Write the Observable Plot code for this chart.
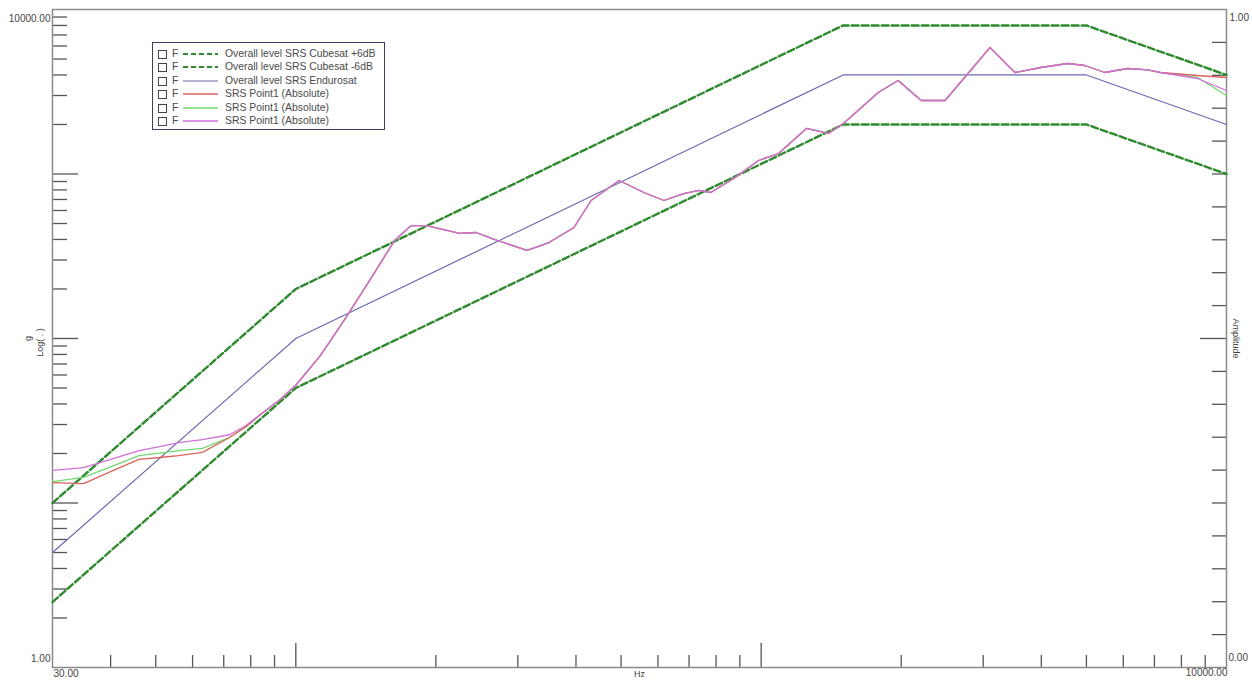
<!DOCTYPE html>
<html>
<head>
<meta charset="utf-8">
<script src="https://cdn.jsdelivr.net/npm/d3@7"></script>
<script src="https://cdn.jsdelivr.net/npm/@observablehq/plot@0.6"></script>
<style>
  html, body { margin: 0; padding: 0; background: #fff; }
  #wrap { position: relative; width: 1252px; height: 680px; font-family: "Liberation Sans", Arial, sans-serif; }
  #legend { position: absolute; left: 152px; top: 42px; width: 233px; height: 88px; border: 1px solid #3c3c66; background: #fff; box-sizing: border-box; }
  .row { position: absolute; left: 0; height: 12px; font-size: 10.4px; line-height: 12px; color: #4a4a4a; white-space: nowrap; }
  .box { position: absolute; left: 5px; top: 2px; width: 7px; height: 7px; border: 1px solid #444; }
  .f { position: absolute; left: 19px; top: 0px; }
  .smp { position: absolute; left: 30px; top: 0px; }
  .lbl { position: absolute; left: 72px; top: 0px; }
</style>
</head>
<body>
<div id="wrap"><div id="chart"></div><div id="legend"></div></div>
<script>
// ---- data ----
const limitFreq = [30, 100, 1500, 5000, 10000];
const cubesatPlus6 = [10, 200, 8000, 8000, 4000];
const cubesatMinus6 = [2.5, 50, 2000, 2000, 1000];
const endurosat = [5, 100, 4000, 4000, 2000];

const srsFreq = [30, 35, 40, 46, 51, 56, 63, 72, 78, 84.5, 92, 100, 113, 127, 144, 163, 177, 191, 225, 244, 264, 314, 350, 396, 431, 495, 560, 618, 682, 734, 779, 873, 987, 1090, 1251, 1395, 1502, 1785, 1970, 2207, 2484, 2783, 3102, 3510, 3990, 4560, 4959, 5473, 6131, 6766, 7215, 8662, 10000];
const srsRed = [13.3, 13.1, 15.5, 18.4, 18.9, 19.4, 20.3, 25, 29, 35, 42, 52, 79, 129, 225, 394, 486, 486, 435, 441, 405, 343, 383, 473, 690, 913, 772, 690, 761, 794, 772, 939, 1208, 1332, 1891, 1763, 2028, 3129, 3702, 2797, 2797, 4083, 5875, 4140, 4440, 4695, 4566, 4140, 4378, 4300, 4140, 3971, 3861];
const srsGreen = [13.5, 14.3, 16.6, 19.4, 20.1, 20.8, 21.5, 25, 29, 35, 42, 52, 79, 129, 225, 394, 486, 486, 435, 441, 405, 343, 383, 473, 690, 913, 772, 690, 761, 794, 772, 939, 1208, 1332, 1891, 1763, 2028, 3129, 3702, 2797, 2797, 4083, 5875, 4140, 4440, 4695, 4566, 4140, 4378, 4300, 4140, 3861, 3001];
const srsMagenta = [15.8, 16.4, 18.4, 20.8, 22.0, 23.3, 24.3, 26, 29.5, 35, 42, 52, 79, 129, 225, 394, 486, 486, 435, 441, 405, 343, 383, 473, 690, 913, 772, 690, 761, 794, 772, 939, 1208, 1332, 1891, 1763, 2028, 3129, 3702, 2797, 2797, 4083, 5875, 4140, 4440, 4695, 4566, 4140, 4378, 4300, 4140, 3806, 3218];

const xMinorTicks = [40, 50, 60, 70, 80, 90, 200, 300, 400, 500, 600, 700, 800, 900, 2000, 3000, 4000, 5000, 6000, 7000, 8000, 9000];
const xMajorTicks = [100, 1000];
const yMinorTicks = [2, 3, 4, 5, 6, 7, 8, 9, 20, 30, 40, 50, 60, 70, 80, 90, 200, 300, 400, 500, 600, 700, 800, 900, 2000, 3000, 4000, 5000, 6000, 7000, 8000, 9000];
const yMajorTicks = [10, 100, 1000];
const ampShortTicks = [0.05, 0.1, 0.15, 0.2, 0.25, 0.3, 0.35, 0.4, 0.45, 0.55, 0.6, 0.65, 0.7, 0.75, 0.8, 0.85, 0.9, 0.95];
const ampLongTicks = [0.5];

const legendLabels = ["Overall level SRS Cubesat +6dB", "Overall level SRS Cubesat -6dB", "Overall level SRS Endurosat", "SRS Point1 (Absolute)", "SRS Point1 (Absolute)", "SRS Point1 (Absolute)"];

// ---- styles ----
const cDash = "#2f8a2f", cBlue = "#6a6ab0", cRed = "#d8645c", cGreen = "#72d872", cMag = "#d070d8";

const toRows = (xs, ys) => xs.map((x, i) => ({x, y: ys[i]}));
const plotW = 1252 - 52 - 26, plotH = 680 - 9 - 13;
const ampToY = a => Math.pow(10, 4 * a);

const chart = Plot.plot({
  width: 1252, height: 680,
  marginLeft: 52, marginRight: 26, marginTop: 9, marginBottom: 13,
  x: {type: "log", domain: [30, 10000], axis: null},
  y: {type: "log", domain: [1, 10000], axis: null},
  style: {fontFamily: "Liberation Sans, Arial, sans-serif", fontSize: "10px", background: "#fff", overflow: "visible"},
  marks: [
    Plot.tickX(xMinorTicks, {x: d => d, insetTop: plotH - 12, stroke: "#555", strokeWidth: 1.3}),
    Plot.tickX(xMajorTicks, {x: d => d, insetTop: plotH - 24, stroke: "#555", strokeWidth: 1.3}),
    Plot.tickY(yMinorTicks, {y: d => d, insetRight: plotW - 15, stroke: "#555", strokeWidth: 1.3}),
    Plot.tickY(yMajorTicks, {y: d => d, insetRight: plotW - 26, stroke: "#555", strokeWidth: 1.3}),
    Plot.tickY(ampShortTicks, {y: ampToY, insetLeft: plotW - 14, stroke: "#555", strokeWidth: 1.3}),
    Plot.tickY(ampLongTicks, {y: ampToY, insetLeft: plotW - 26, stroke: "#555", strokeWidth: 1.3}),
    Plot.frame({stroke: "#8a8a8a", strokeWidth: 1.5}),
    Plot.line(toRows(limitFreq, endurosat), {x: "x", y: "y", stroke: cBlue, strokeWidth: 1.2}),
    Plot.line(toRows(limitFreq, cubesatPlus6), {x: "x", y: "y", stroke: cDash, strokeWidth: 2.4, strokeDasharray: "7,3"}),
    Plot.line(toRows(limitFreq, cubesatMinus6), {x: "x", y: "y", stroke: cDash, strokeWidth: 2.4, strokeDasharray: "7,3"}),
    Plot.line(toRows(srsFreq, srsGreen), {x: "x", y: "y", stroke: cGreen, strokeWidth: 1.3}),
    Plot.line(toRows(srsFreq, srsRed), {x: "x", y: "y", stroke: cRed, strokeWidth: 1.3}),
    Plot.line(toRows(srsFreq, srsMagenta), {x: "x", y: "y", stroke: cMag, strokeWidth: 1.3}),
    // axis end labels
    Plot.text(["10000.00"], {text: d => d, frameAnchor: "top-left", textAnchor: "end", dx: -2, dy: 5, fill: "#444"}),
    Plot.text(["1.00"], {text: d => d, frameAnchor: "bottom-left", textAnchor: "end", dx: -2, dy: -6, fill: "#444"}),
    Plot.text(["1.00"], {text: d => d, frameAnchor: "top-right", textAnchor: "start", dx: 3, dy: 4, fill: "#444"}),
    Plot.text(["0.00"], {text: d => d, frameAnchor: "bottom-right", textAnchor: "start", dx: 2, dy: -7, fill: "#444"}),
    Plot.text(["30.00"], {text: d => d, frameAnchor: "bottom-left", textAnchor: "start", dx: 1, dy: 9, fill: "#444"}),
    Plot.text(["10000.00"], {text: d => d, frameAnchor: "bottom-right", textAnchor: "end", dx: 1, dy: 8, fill: "#444"}),
    Plot.text(["Hz"], {text: d => d, frameAnchor: "bottom", textAnchor: "middle", dy: 9, fill: "#444", fontSize: 9}),
    Plot.text(["g"], {text: d => d, frameAnchor: "left", textAnchor: "middle", dx: -24, rotate: -90, fill: "#444", fontSize: 9}),
    Plot.text(["Log( . )"], {text: d => d, frameAnchor: "left", textAnchor: "middle", dx: -12, dy: 4, rotate: -90, fill: "#444", fontSize: 9}),
    Plot.text(["Amplitude"], {text: d => d, frameAnchor: "right", textAnchor: "middle", dx: 9, dy: 0, rotate: 90, fill: "#444", fontSize: 9})
  ]
});
document.getElementById("chart").appendChild(chart);

// ---- legend ----
const legendStyles = [
  {stroke: cDash, width: 2.2, dash: "5,3"},
  {stroke: cDash, width: 2.2, dash: "5,3"},
  {stroke: cBlue, width: 1.2, dash: ""},
  {stroke: cRed, width: 1.3, dash: ""},
  {stroke: cGreen, width: 1.3, dash: ""},
  {stroke: cMag, width: 1.3, dash: ""}
];
const legend = document.getElementById("legend");
legendLabels.forEach((lab, i) => {
  const s = legendStyles[i];
  const row = document.createElement("div");
  row.className = "row";
  row.style.top = (5 + i * 13.4) + "px";
  row.innerHTML = `<div class="box"></div><span class="f">F</span>` +
    `<svg class="smp" width="35" height="12"><line x1="0" x2="35" y1="6" y2="6" stroke="${s.stroke}" stroke-width="${s.width}" stroke-dasharray="${s.dash}"/></svg>` +
    `<span class="lbl">${lab}</span>`;
  legend.appendChild(row);
});
</script>
</body>
</html>
